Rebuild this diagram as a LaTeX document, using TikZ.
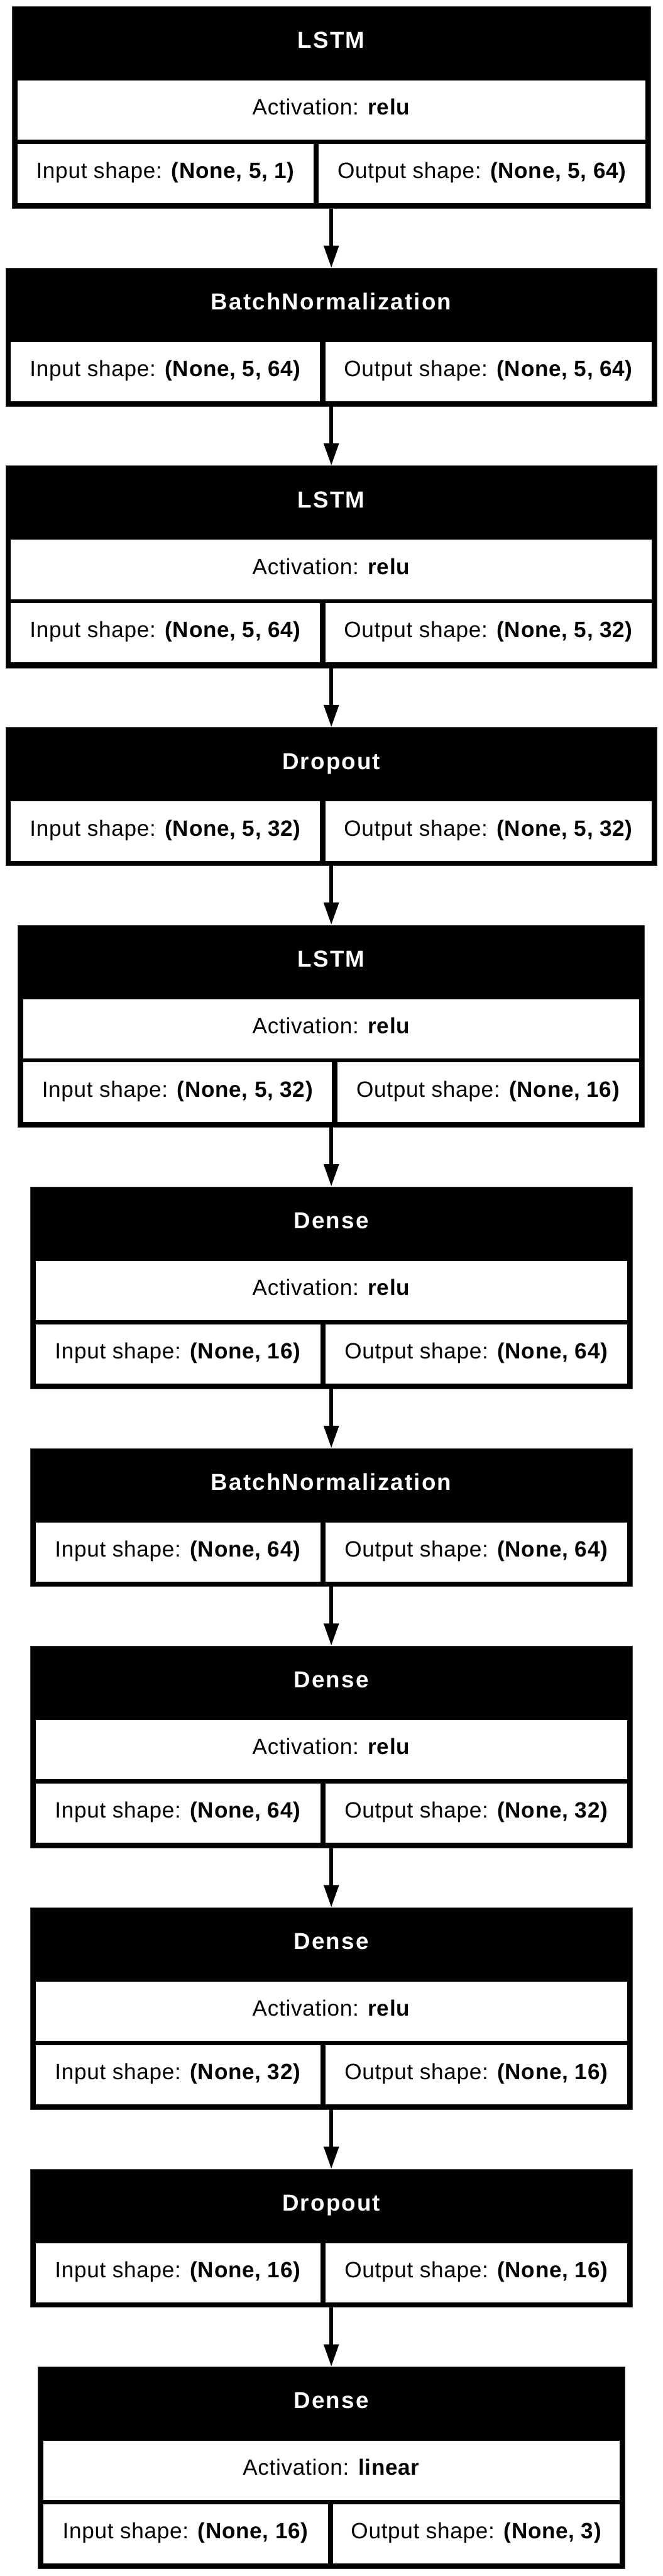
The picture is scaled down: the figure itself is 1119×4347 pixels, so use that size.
\documentclass[tikz,border=0pt]{standalone}
\usepackage{fontspec}
\setmainfont{Liberation Sans}[LetterSpace=2]
\newfontfamily\titlefont{Liberation Sans}[LetterSpace=6]
\usetikzlibrary{arrows.meta,positioning}

\begin{document}
\begin{tikzpicture}[
    x=1pt, y=-1pt,
    node distance=100.5pt,
    every node/.style={inner sep=0pt, outer sep=0pt, font=\fontsize{37.3}{40}\selectfont},
    layer/.style={rectangle, fill=black, draw=black!75, line width=0.8pt, minimum width=#1, anchor=north},
    full/.style={minimum height=341pt},
    bare/.style={minimum height=233pt},
    head/.style={rectangle, minimum width=#1, minimum height=125pt, anchor=north, text=white, font=\titlefont\bfseries\fontsize{39}{42}\selectfont, text height=26pt, text depth=10pt},
    cell/.style={rectangle, fill=white, minimum width=#1, minimum height=100pt, text height=26pt, text depth=10pt},
    flow/.style={-{Triangle[length=38pt, width=24pt]}, line width=7pt},
]
\useasboundingbox (0,0) rectangle (1119,4347);

% Layer 1: LSTM
\node[layer=1078pt, full] (lstm1) at (559.5,11) {};
\node[head=1078pt] (lstm1h) at (lstm1.north) {LSTM};
\node[cell=1060pt, anchor=north] (lstm1a) at (lstm1h.south) {Activation: \textbf{relu}};
\node[cell=500pt, anchor=north west] (lstm1i) at ([yshift=-7pt]lstm1a.south west) {Input shape: \textbf{(None, 5, 1)}};
\node[cell=551pt, anchor=north east] (lstm1o) at ([yshift=-7pt]lstm1a.south east) {Output shape: \textbf{(None, 5, 64)}};

% Layer 2: BatchNormalization
\node[layer=1100pt, bare, below=of lstm1] (bn1) {};
\node[head=1100pt] (bn1h) at (bn1.north) {BatchNormalization};
\node[cell=522pt, anchor=north west] (bn1i) at ([xshift=9pt]bn1h.south west) {Input shape: \textbf{(None, 5, 64)}};
\node[cell=551pt, anchor=north east] (bn1o) at ([xshift=-9pt]bn1h.south east) {Output shape: \textbf{(None, 5, 64)}};

% Layer 3: LSTM
\node[layer=1100pt, full, below=of bn1] (lstm2) {};
\node[head=1100pt] (lstm2h) at (lstm2.north) {LSTM};
\node[cell=1082pt, anchor=north] (lstm2a) at (lstm2h.south) {Activation: \textbf{relu}};
\node[cell=522pt, anchor=north west] (lstm2i) at ([yshift=-7pt]lstm2a.south west) {Input shape: \textbf{(None, 5, 64)}};
\node[cell=551pt, anchor=north east] (lstm2o) at ([yshift=-7pt]lstm2a.south east) {Output shape: \textbf{(None, 5, 32)}};

% Layer 4: Dropout
\node[layer=1100pt, bare, below=of lstm2] (drop1) {};
\node[head=1100pt] (drop1h) at (drop1.north) {Dropout};
\node[cell=522pt, anchor=north west] (drop1i) at ([xshift=9pt]drop1h.south west) {Input shape: \textbf{(None, 5, 32)}};
\node[cell=551pt, anchor=north east] (drop1o) at ([xshift=-9pt]drop1h.south east) {Output shape: \textbf{(None, 5, 32)}};

% Layer 5: LSTM
\node[layer=1058pt, full, below=of drop1] (lstm3) {};
\node[head=1058pt] (lstm3h) at (lstm3.north) {LSTM};
\node[cell=1040pt, anchor=north] (lstm3a) at (lstm3h.south) {Activation: \textbf{relu}};
\node[cell=521pt, anchor=north west] (lstm3i) at ([yshift=-7pt]lstm3a.south west) {Input shape: \textbf{(None, 5, 32)}};
\node[cell=510pt, anchor=north east] (lstm3o) at ([yshift=-7pt]lstm3a.south east) {Output shape: \textbf{(None, 16)}};

% Layer 6: Dense
\node[layer=1017pt, full, below=of lstm3] (dense1) {};
\node[head=1017pt] (dense1h) at (dense1.north) {Dense};
\node[cell=999pt, anchor=north] (dense1a) at (dense1h.south) {Activation: \textbf{relu}};
\node[cell=481pt, anchor=north west] (dense1i) at ([yshift=-7pt]dense1a.south west) {Input shape: \textbf{(None, 16)}};
\node[cell=509pt, anchor=north east] (dense1o) at ([yshift=-7pt]dense1a.south east) {Output shape: \textbf{(None, 64)}};

% Layer 7: BatchNormalization
\node[layer=1017pt, bare, below=of dense1] (bn2) {};
\node[head=1017pt] (bn2h) at (bn2.north) {BatchNormalization};
\node[cell=481pt, anchor=north west] (bn2i) at ([xshift=9pt]bn2h.south west) {Input shape: \textbf{(None, 64)}};
\node[cell=509pt, anchor=north east] (bn2o) at ([xshift=-9pt]bn2h.south east) {Output shape: \textbf{(None, 64)}};

% Layer 8: Dense
\node[layer=1017pt, full, below=of bn2] (dense2) {};
\node[head=1017pt] (dense2h) at (dense2.north) {Dense};
\node[cell=999pt, anchor=north] (dense2a) at (dense2h.south) {Activation: \textbf{relu}};
\node[cell=481pt, anchor=north west] (dense2i) at ([yshift=-7pt]dense2a.south west) {Input shape: \textbf{(None, 64)}};
\node[cell=509pt, anchor=north east] (dense2o) at ([yshift=-7pt]dense2a.south east) {Output shape: \textbf{(None, 32)}};

% Layer 9: Dense
\node[layer=1017pt, full, below=of dense2] (dense3) {};
\node[head=1017pt] (dense3h) at (dense3.north) {Dense};
\node[cell=999pt, anchor=north] (dense3a) at (dense3h.south) {Activation: \textbf{relu}};
\node[cell=481pt, anchor=north west] (dense3i) at ([yshift=-7pt]dense3a.south west) {Input shape: \textbf{(None, 32)}};
\node[cell=509pt, anchor=north east] (dense3o) at ([yshift=-7pt]dense3a.south east) {Output shape: \textbf{(None, 16)}};

% Layer 10: Dropout
\node[layer=1017pt, bare, below=of dense3] (drop2) {};
\node[head=1017pt] (drop2h) at (drop2.north) {Dropout};
\node[cell=481pt, anchor=north west] (drop2i) at ([xshift=9pt]drop2h.south west) {Input shape: \textbf{(None, 16)}};
\node[cell=509pt, anchor=north east] (drop2o) at ([xshift=-9pt]drop2h.south east) {Output shape: \textbf{(None, 16)}};

% Layer 11: Dense (output)
\node[layer=991pt, full, below=of drop2] (dense4) {};
\node[head=991pt] (dense4h) at (dense4.north) {Dense};
\node[cell=973pt, anchor=north] (dense4a) at (dense4h.south) {Activation: \textbf{linear}};
\node[cell=481pt, anchor=north west] (dense4i) at ([yshift=-7pt]dense4a.south west) {Input shape: \textbf{(None, 16)}};
\node[cell=483pt, anchor=north east] (dense4o) at ([yshift=-7pt]dense4a.south east) {Output shape: \textbf{(None, 3)}};

% Data flow
\draw[flow] (lstm1.south) -- (bn1.north);
\draw[flow] (bn1.south) -- (lstm2.north);
\draw[flow] (lstm2.south) -- (drop1.north);
\draw[flow] (drop1.south) -- (lstm3.north);
\draw[flow] (lstm3.south) -- (dense1.north);
\draw[flow] (dense1.south) -- (bn2.north);
\draw[flow] (bn2.south) -- (dense2.north);
\draw[flow] (dense2.south) -- (dense3.north);
\draw[flow] (dense3.south) -- (drop2.north);
\draw[flow] (drop2.south) -- (dense4.north);

\end{tikzpicture}
\end{document}
